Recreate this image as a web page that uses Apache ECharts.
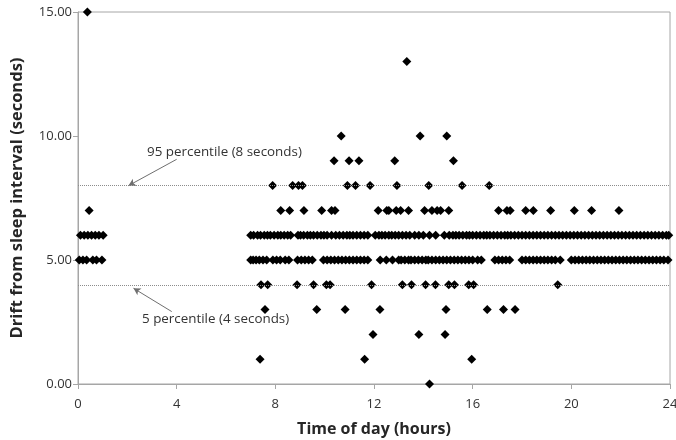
<!DOCTYPE html>
<html><head><meta charset="utf-8">
<script src="https://cdn.jsdelivr.net/npm/echarts@6/dist/echarts.min.js"></script>
<style>html,body{margin:0;padding:0;background:#fff}#c{width:676px;height:440px}</style>
</head><body><div id="c"></div>
<script>
// x tick labels (hours) and y tick labels (seconds)
const xTicks = [0, 4, 8, 12, 16, 20, 24];
const yTicks = [0, 5, 10, 15];

// observations: time of day (hours) grouped by drift value (seconds)
const drift15 = [0.38];
const drift13 = [13.33];
const drift10 = [10.67, 13.87, 14.95];
const drift9 = [10.38, 10.99, 11.39, 12.84, 15.22];
const drift8 = [7.89, 8.7, 8.94, 9.1, 10.92, 11.25, 11.84, 12.93, 14.22, 15.57, 16.67];
const drift7 = [0.45, 8.22, 8.58, 9.16, 9.88, 10.28, 10.42, 12.17, 12.52, 12.6, 12.9, 13.08, 13.4,
  14.05, 14.35, 14.56, 14.7, 15.03, 17.05, 17.39, 17.52, 18.15, 18.46, 19.16, 20.12, 20.82, 21.93];
const drift6 = [0.1, 0.25, 0.4, 0.55, 0.7, 0.85, 1.02,
  7.0, 7.12, 7.28, 7.4, 7.55, 7.68, 7.8, 7.95, 8.1, 8.22, 8.36, 8.5, 8.62,
  8.92, 9.02, 9.15, 9.3, 9.42, 9.55, 9.7, 9.85, 9.97, 10.1, 10.28, 10.45, 10.6, 10.75, 10.9,
  11.02, 11.15, 11.3, 11.45, 11.6, 11.75, 12.05, 12.2, 12.32, 12.45, 12.6, 12.72, 12.86,
  13.0, 13.15, 13.3, 13.45, 13.65, 13.82, 14.0, 14.25, 14.5, 14.85,
  15.05, 15.2, 15.32, 15.45, 15.6, 15.75, 15.87, 16.0, 16.15, 16.3, 16.45, 16.57, 16.7, 16.85,
  17.0, 17.15, 17.3, 17.42, 17.55, 17.7, 17.85, 18.0, 18.15, 18.3, 18.45, 18.6, 18.75, 18.9,
  19.05, 19.2, 19.35, 19.5, 19.65, 19.8, 19.95, 20.1, 20.25, 20.4, 20.55, 20.7, 20.85,
  21.0, 21.15, 21.3, 21.45, 21.6, 21.75, 21.9, 22.05, 22.2, 22.35, 22.5, 22.65, 22.8, 22.95,
  23.1, 23.25, 23.4, 23.55, 23.7, 23.85, 23.95];
const drift5 = [0.05, 0.2, 0.35, 0.6, 0.75, 0.97,
  7.0, 7.1, 7.22, 7.35, 7.5, 7.65, 7.9, 8.05, 8.2, 8.4, 8.55, 8.9, 9.05, 9.2, 9.35, 9.5,
  9.95, 10.1, 10.25, 10.4, 10.55, 10.7, 10.85, 11.0, 11.15, 11.3, 11.45, 11.6, 11.75,
  12.25, 12.5, 12.75, 13.0, 13.1, 13.25, 13.4, 13.5, 13.65, 13.8, 13.95, 14.1, 14.2, 14.35,
  14.5, 14.65, 14.8, 14.95, 15.1, 15.25, 15.4, 15.55, 15.7, 15.85, 16.0, 16.2, 16.35,
  16.9, 17.05, 17.2, 17.35, 17.5, 18.0, 18.15, 18.3, 18.45, 18.6, 18.75, 18.9, 19.05, 19.2,
  19.35, 19.55, 20.0, 20.15, 20.3, 20.45, 20.6, 20.75, 20.9, 21.05, 21.2, 21.35, 21.5, 21.65,
  21.8, 21.95, 22.1, 22.25, 22.4, 22.55, 22.7, 22.85, 23.0, 23.15, 23.3, 23.45, 23.6, 23.75, 23.92];
const drift4 = [7.42, 7.69, 8.88, 9.55, 10.07, 10.22, 11.9, 13.15, 13.52, 14.09, 14.49,
  15.03, 15.26, 15.84, 16.04, 19.45];
const drift3 = [7.58, 9.68, 10.83, 12.24, 14.92, 16.59, 17.25, 17.72];
const drift2 = [11.96, 13.82, 14.88];
const drift1 = [7.38, 11.62, 15.96];
const drift0 = [14.25];

const percentile95 = 8;
const percentile5 = 4;
const label95 = '95 percentile (8 seconds)';
const label5 = '5 percentile (4 seconds)';
// annotation arrows: [tail hour, tail drift] -> [tip hour, tip drift]
const arrow95 = [[4.0, 9.06], [2.05, 8.0]];
const arrow5 = [[3.8, 2.92], [2.25, 3.86]];

const rows = [[15, drift15], [13, drift13], [10, drift10], [9, drift9], [8, drift8], [7, drift7],
  [6, drift6], [5, drift5], [4, drift4], [3, drift3], [2, drift2], [1, drift1], [0, drift0]];
const points = [];
rows.forEach(([v, hs]) => hs.forEach(h => points.push([h, v])));

const FONT = '"Open Sans", "Liberation Sans", sans-serif';
const chart = echarts.init(document.getElementById('c'), null, {renderer: 'canvas'});
chart.setOption({
  animation: false,
  backgroundColor: '#fff',
  grid: {left: 78, right: 6, top: 12, bottom: 56, containLabel: false, outerBoundsMode: 'none',
    show: true, borderColor: '#a6a6a6', borderWidth: 1},
  xAxis: {
    type: 'value', min: xTicks[0], max: xTicks[xTicks.length - 1], interval: 4,
    name: 'Time of day (hours)', nameLocation: 'middle', nameGap: 37,
    nameTextStyle: {fontFamily: FONT, fontWeight: 'bold', fontSize: 16, color: '#262626'},
    axisLine: {show: true, lineStyle: {color: '#a6a6a6'}},
    axisTick: {show: true, length: 5, lineStyle: {color: '#a6a6a6'}},
    axisLabel: {fontFamily: FONT, fontSize: 13, color: '#333', margin: 14},
    splitLine: {show: false}
  },
  yAxis: {
    type: 'value', min: yTicks[0], max: yTicks[yTicks.length - 1], interval: 5,
    name: 'Drift from sleep interval (seconds)', nameLocation: 'middle', nameGap: 52,
    nameTextStyle: {fontFamily: FONT, fontWeight: 'bold', fontSize: 16.5, color: '#262626'},
    axisLine: {show: true, lineStyle: {color: '#a6a6a6'}},
    axisTick: {show: true, length: 5, lineStyle: {color: '#a6a6a6'}},
    axisLabel: {fontFamily: FONT, fontSize: 13, color: '#333', margin: 6,
      formatter: v => v.toFixed(2)},
    splitLine: {show: false}
  },
  series: [
    {
      type: 'scatter', symbol: 'diamond', symbolSize: [9, 9],
      itemStyle: {color: '#000', opacity: 1}, data: points, z: 3,
      markLine: {
        silent: true, symbol: ['none', 'none'], label: {show: false},
        lineStyle: {type: 'dotted', color: '#8c8c8c', width: 1},
        data: [{yAxis: percentile95}, {yAxis: percentile5}]
      }
    },
    {
      type: 'line', data: [], silent: true,
      markLine: {
        silent: true, symbol: ['none', 'arrow'], symbolSize: [6, 7], label: {show: false},
        lineStyle: {type: 'solid', color: '#6f6f6f', width: 1},
        data: [
          [{coord: arrow95[0]}, {coord: arrow95[1]}],
          [{coord: arrow5[0]}, {coord: arrow5[1]}]
        ]
      }
    }
  ],
  graphic: [
    {type: 'text', left: 147, top: 146, style: {text: label95, fontFamily: FONT, fontSize: 13.4, fill: '#333'}},
    {type: 'text', left: 142, top: 313, style: {text: label5, fontFamily: FONT, fontSize: 13.4, fill: '#333'}}
  ]
});
</script></body></html>
